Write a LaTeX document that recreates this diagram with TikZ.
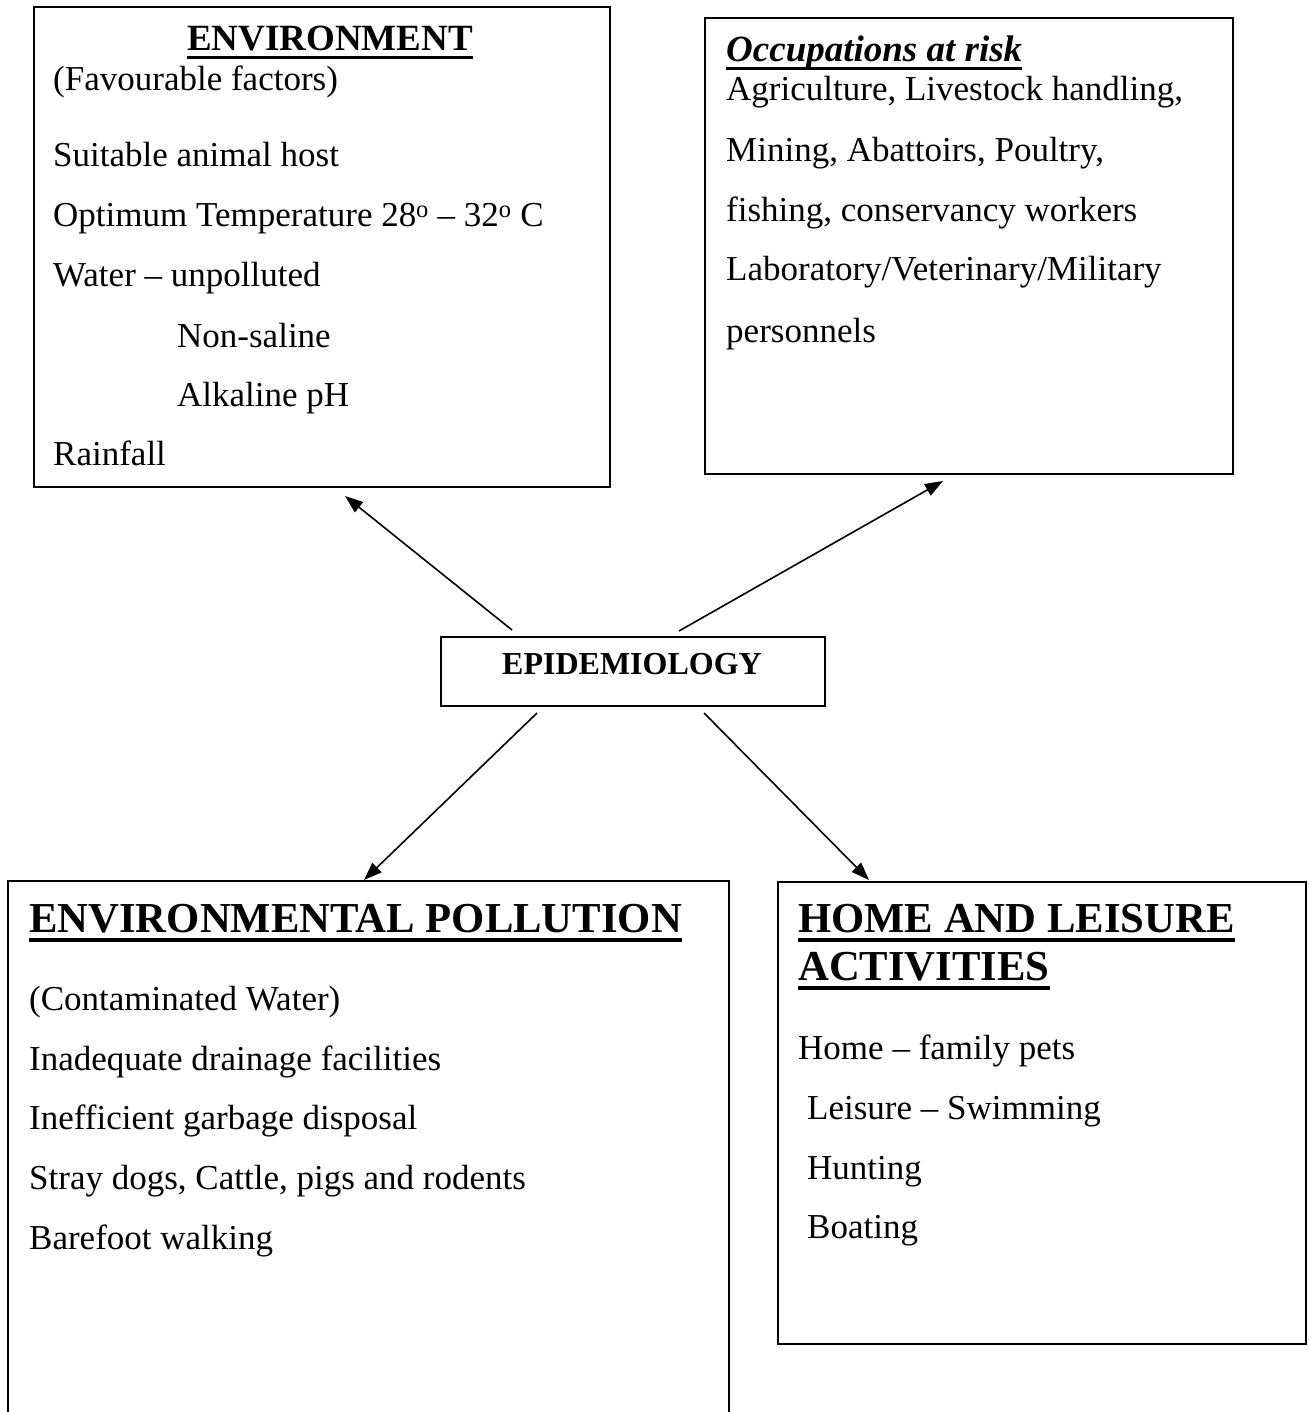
\documentclass[tikz,border=0pt]{standalone}
\usepackage{fontspec}
\setmainfont{Liberation Serif}
\usetikzlibrary{arrows.meta}
\tikzset{
  box/.style={draw, line width=2pt, inner sep=0pt, anchor=north west},
  body/.style={inner sep=0pt, anchor=base west, font=\fontsize{35}{42}\selectfont},
  head/.style={inner sep=0pt, anchor=base west, font=\fontsize{37}{44}\selectfont\bfseries},
  bighead/.style={inner sep=0pt, anchor=base west, font=\fontsize{42.7}{50}\selectfont\bfseries},
  ul/.style={line width=3pt},
  bigul/.style={line width=4pt},
  arr/.style={line width=1.6pt, -{Triangle[length=18pt,width=13pt]}},
}
\begin{document}
\begin{tikzpicture}[x=1pt,y=-1pt]
\useasboundingbox (0,0) rectangle (1308,1412);
\fill[white] (0,0) rectangle (1308,1412);

% boxes
\node[box, minimum width=576pt, minimum height=480pt] (env) at (33,6) {};
\node[box, minimum width=528pt, minimum height=456pt] (occ) at (704,17) {};
\node[box, minimum width=384pt, minimum height=69pt] (epi) at (440,636) {};
\node[anchor=north west, inner sep=0pt, minimum width=721pt, minimum height=531pt] (poll) at (8,881) {};
\draw[line width=2pt] (poll.south west) -- (poll.north west) -- (poll.north east) -- (poll.south east);
\node[box, minimum width=528pt, minimum height=462pt] (home) at (777,881) {};

% Environment
\node[head, anchor=base] (envh) at (330,51) {ENVIRONMENT};
\draw[ul] ([yshift=-7pt]envh.base west) -- ([yshift=-7pt]envh.base east);
\node[body] (env1) at (53,91) {(Favourable factors)};
\node[body] (env2) at (53,167) {Suitable animal host};
\node[body] (env3) at (53,227) {Optimum Temperature 28\textsuperscript{o} -- 32\textsuperscript{o} C};
\node[body] (env4) at (53,287) {Water -- unpolluted};
\node[body] (env5) at (177,347) {Non-saline};
\node[body] (env6) at (177,406) {Alkaline pH};
\node[body] (env7) at (53,465) {Rainfall};

% Occupations
\node[head, font=\fontsize{37}{44}\selectfont\bfseries\itshape] (occh) at (726,62) {Occupations at risk};
\draw[ul] ([yshift=-7pt]occh.base west) -- ([yshift=-7pt]occh.base east);
\node[body] (occ1) at (726,101) {Agriculture, Livestock handling,};
\node[body] (occ2) at (726,162) {Mining, Abattoirs, Poultry,};
\node[body] (occ3) at (726,222) {fishing, conservancy workers};
\node[body] (occ4) at (726,281) {Laboratory/Veterinary/Military};
\node[body] (occ5) at (726,342) {personnels};

% Epidemiology
\node[inner sep=0pt, anchor=base, font=\fontsize{32}{38}\selectfont\bfseries] (epit) at (632,674) {EPIDEMIOLOGY};

% Environmental pollution
\node[bighead] (pollh) at (29,932) {ENVIRONMENTAL POLLUTION};
\draw[bigul] ([yshift=-8pt]pollh.base west) -- ([yshift=-8pt]pollh.base east);
\node[body] (poll1) at (29,1010) {(Contaminated Water)};
\node[body] (poll2) at (29,1070) {Inadequate drainage facilities};
\node[body] (poll3) at (29,1129) {Inefficient garbage disposal};
\node[body] (poll4) at (29,1189) {Stray dogs, Cattle, pigs and rodents};
\node[body] (poll5) at (29,1249) {Barefoot walking};

% Home and leisure
\node[bighead] (homeh1) at (798,932) {HOME AND LEISURE};
\draw[bigul] ([yshift=-8pt]homeh1.base west) -- ([yshift=-8pt]homeh1.base east);
\node[bighead] (homeh2) at (798,980) {ACTIVITIES};
\draw[bigul] ([yshift=-8pt]homeh2.base west) -- ([yshift=-8pt]homeh2.base east);
\node[body] (home1) at (798,1059) {Home -- family pets};
\node[body] (home2) at (807,1119) {Leisure -- Swimming};
\node[body] (home3) at (807,1179) {Hunting};
\node[body] (home4) at (807,1238) {Boating};

% arrows
\coordinate (s1) at (512,630);
\coordinate (t1) at (345,496);
\coordinate (s2) at (679,631);
\coordinate (t2) at (943,481);
\coordinate (s3) at (537,713);
\coordinate (t3) at (364,880);
\coordinate (s4) at (704,713);
\coordinate (t4) at (869,880);
\draw[arr] (s1) -- (t1);
\draw[arr] (s2) -- (t2);
\draw[arr] (s3) -- (t3);
\draw[arr] (s4) -- (t4);
\end{tikzpicture}
\end{document}
